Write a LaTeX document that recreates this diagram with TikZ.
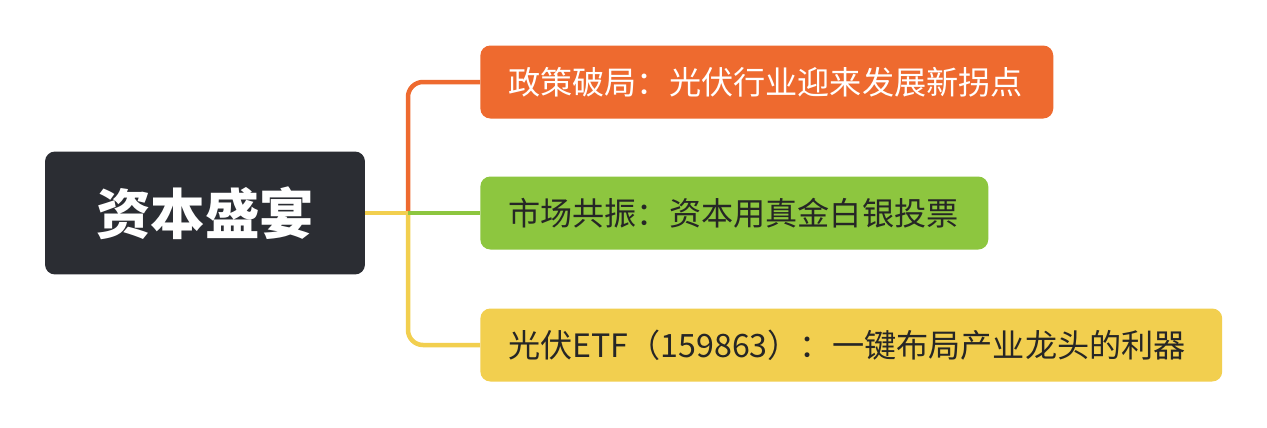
\documentclass[tikz,border=0pt]{standalone}
\usepackage{fontspec}
\setmainfont{Noto Sans CJK SC}
\usepackage{xcolor}
\usetikzlibrary{positioning,calc}
\definecolor{rootc}{HTML}{2B2D33}
\definecolor{orangec}{HTML}{EE6A2F}
\definecolor{greenc}{HTML}{8DC63F}
\definecolor{yellowc}{HTML}{F2CF4F}
\tikzset{
  topic/.style={rectangle,rounded corners=0.2cm,inner xsep=0.56cm,inner ysep=0pt,
    minimum height=1.46cm,align=left,anchor=west,font=\fontsize{18.3}{22}\selectfont},
  link/.style={line width=0.09cm,rounded corners=0.3cm}
}
\begin{document}
\begin{tikzpicture}[x=0.02cm,y=-0.02cm]
\useasboundingbox[fill=white] (0,0) rectangle (1267,427);
\node[fill=rootc,rounded corners=0.2cm,minimum width=6.4cm,minimum height=2.46cm,text=white,
  font=\fontsize{31}{36}\selectfont\bfseries] (root) at (205,213) {资本盛宴};
\node[topic,fill=orangec,text=white,text width=10.34cm] (policy) at (480,82) {政策破局：光伏行业迎来发展新拐点};
\node[topic,fill=greenc,text=black!85,text width=9.04cm] (market) at (480,213) {市场共振：资本用真金白银投票};
\node[topic,fill=yellowc,text=black!85,text width=13.72cm] (etf) at (480,345) {光伏ETF（159863）：一键布局产业龙头的利器};
\coordinate (fork) at (408,213);
\draw[link,orangec] (fork) |- (policy.west);
\draw[link,yellowc] (fork) |- (etf.west);
\draw[link,yellowc,line cap=butt] (root.east) -- (fork);
\draw[link,greenc] (fork) -- (market.west);
\end{tikzpicture}
\end{document}
